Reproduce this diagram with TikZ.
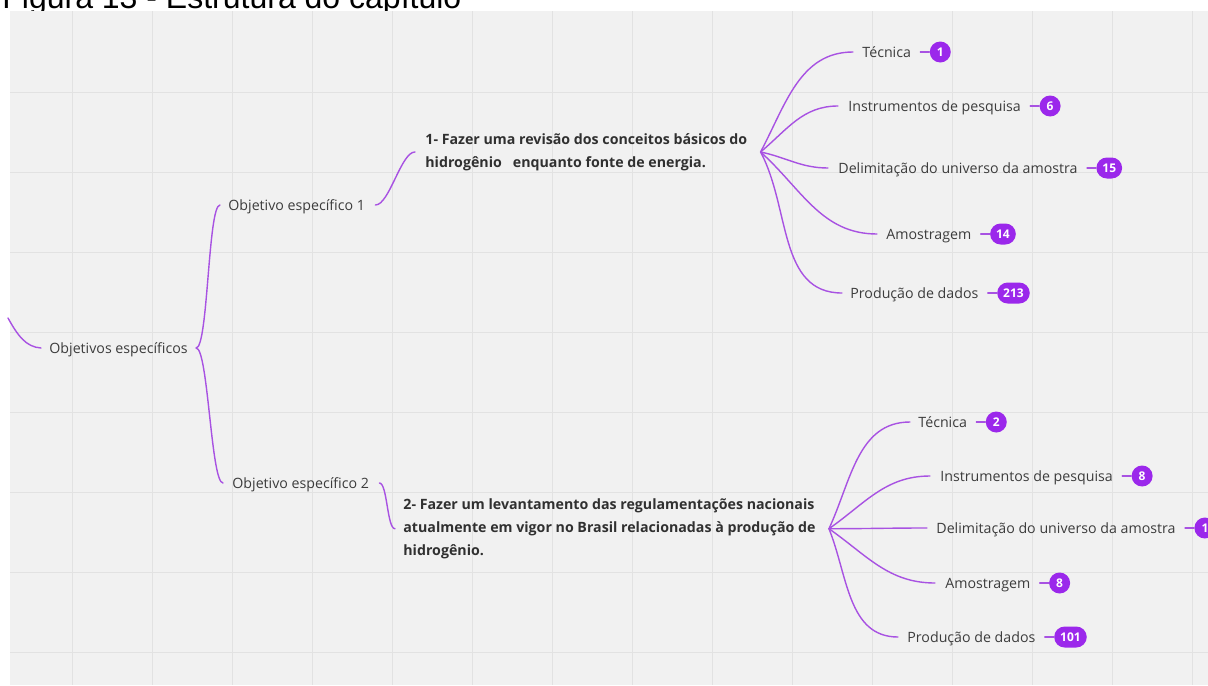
\documentclass[tikz,border=0pt]{standalone}
\usepackage{fontspec}
\setmainfont{Open Sans}
\newfontfamily\titlefont{Liberation Sans}
\definecolor{connc}{RGB}{168,82,226}
\definecolor{badgec}{RGB}{155,40,235}
\definecolor{txtc}{RGB}{60,60,60}
\definecolor{boldc}{RGB}{48,48,48}
\definecolor{panelc}{RGB}{241,241,241}
\definecolor{gridc}{RGB}{226,226,226}
\begin{document}
\begin{tikzpicture}[x=0.5pt,y=-0.5pt,
  conn/.style={draw=connc, line width=0.7pt, line cap=round},
  gridline/.style={draw=gridc, line width=0.5pt},
  lbl/.style={inner sep=0pt, anchor=west, text=txtc, font=\fontsize{7.1}{11.3}\selectfont, text height=0.76em, text depth=0.22em},
  big/.style={inner sep=0pt, anchor=base west, align=left, text=boldc, font=\bfseries\fontsize{7.1}{11.3}\selectfont},
  badge/.style={fill=badgec, text=white, font=\bfseries\fontsize{6}{6}\selectfont, rounded corners=5.25pt, minimum height=10.5pt, minimum width=10.5pt, inner xsep=3pt, inner ysep=0pt, anchor=west},
]
\useasboundingbox (0,0) rectangle (1208,685);
\clip (0,0) rectangle (1208,685);
% title (cut by the top edge)
\node[anchor=base west, inner sep=0pt, font=\titlefont\fontsize{16}{16}\selectfont] (title) at (2,9) {Figura 13 - Estrutura do capítulo};
% panel and grid
\fill[panelc] (10,11) rectangle (1208,685);
\foreach \i in {0,...,14} \draw[gridline] ({72.5+80*\i},11) -- ({72.5+80*\i},685);
\foreach \j in {0,...,7} \draw[gridline] (10,{92+80*\j}) -- (1208,{92+80*\j});

% nodes
\node[lbl] (oe) at (49,348) {Objetivos específicos};
\node[lbl] (o1) at (228,205) {Objetivo específico 1};
\node[lbl] (o2) at (232,483) {Objetivo específico 2};
\node[big] (t1) at (425,167) {1- Fazer uma revisão dos conceitos básicos do\\hidrogênio~~~enquanto fonte de energia.};
\node[big] (t2) at (403,555) {2- Fazer um levantamento das regulamentações nacionais\\atualmente em vigor no Brasil relacionadas à produção de\\hidrogênio.};

\node[lbl] (a1) at (862,52) {Técnica};
\node[lbl] (a2) at (848,106) {Instrumentos de pesquisa};
\node[lbl] (a3) at (838,168) {Delimitação do universo da amostra};
\node[lbl] (a4) at (886,234) {Amostragem};
\node[lbl] (a5) at (850,293) {Produção de dados};

\node[lbl] (b1) at (918,422) {Técnica};
\node[lbl] (b2) at (940,476) {Instrumentos de pesquisa};
\node[lbl] (b3) at (936,528) {Delimitação do universo da amostra};
\node[lbl] (b4) at (945,583) {Amostragem};
\node[lbl] (b5) at (907,637) {Produção de dados};

% badges
\node[badge] (ba1) at ([xshift=9pt]a1.east) {1};
\node[badge] (ba2) at ([xshift=9pt]a2.east) {6};
\node[badge] (ba3) at ([xshift=9pt]a3.east) {15};
\node[badge] (ba4) at ([xshift=9pt]a4.east) {14};
\node[badge] (ba5) at ([xshift=9pt]a5.east) {213};
\node[badge] (bb1) at ([xshift=9pt]b1.east) {2};
\node[badge] (bb2) at ([xshift=9pt]b2.east) {8};
\node[badge] (bb3) at ([xshift=9pt]b3.east) {1};
\node[badge] (bb4) at ([xshift=9pt]b4.east) {8};
\node[badge] (bb5) at ([xshift=9pt]b5.east) {101};

\foreach \t/\b in {a1/ba1,a2/ba2,a3/ba3,a4/ba4,a5/ba5,b1/bb1,b2/bb2,b3/bb3,b4/bb4,b5/bb5}
  \draw[conn] ([xshift=4.5pt]\t.east) -- (\b.west);

% connectors
\coordinate (rin) at (8,318);
\draw[conn] (rin) .. controls (18,336) and (26,347) .. ([xshift=-4pt]oe.west);
\draw[conn] ([xshift=4pt]oe.east) .. controls +(6pt,0) and +(-6pt,0) .. ([xshift=-4pt]o1.west);
\draw[conn] ([xshift=4pt]oe.east) .. controls +(6pt,0) and +(-6pt,0) .. ([xshift=-4.5pt]o2.west);
\draw[conn] ([xshift=5pt]o1.east) .. controls +(7pt,0) and +(-7pt,0) .. ([xshift=-5pt]t1.west);
\draw[conn] ([xshift=5pt]o2.east) .. controls +(4pt,0) and +(-4pt,0) .. ([xshift=-4pt]t2.west);

\coordinate (f1) at ([xshift=6.5pt]t1.east);
\coordinate (f2) at ([xshift=6.5pt]t2.east);
\draw[conn] (f1) to[out=62,in=180] ([xshift=-4.5pt]a1.west);
\draw[conn] (f1) to[out=40,in=180] ([xshift=-5pt]a2.west);
\draw[conn] (f1) to[out=-12,in=180] ([xshift=-5pt]a3.west);
\draw[conn] (f1) to[out=-42,in=180] ([xshift=-4.5pt]a4.west);
\draw[conn] (f1) to[out=-62,in=180] ([xshift=-4pt]a5.west);

\draw[conn] (f2) to[out=65,in=180] ([xshift=-4pt]b1.west);
\draw[conn] (f2) to[out=35,in=180] ([xshift=-5pt]b2.west);
\draw[conn] (f2) to[out=0,in=180] ([xshift=-4.5pt]b3.west);
\draw[conn] (f2) to[out=-35,in=180] ([xshift=-5pt]b4.west);
\draw[conn] (f2) to[out=-68,in=180] ([xshift=-4.5pt]b5.west);
\end{tikzpicture}
\end{document}
